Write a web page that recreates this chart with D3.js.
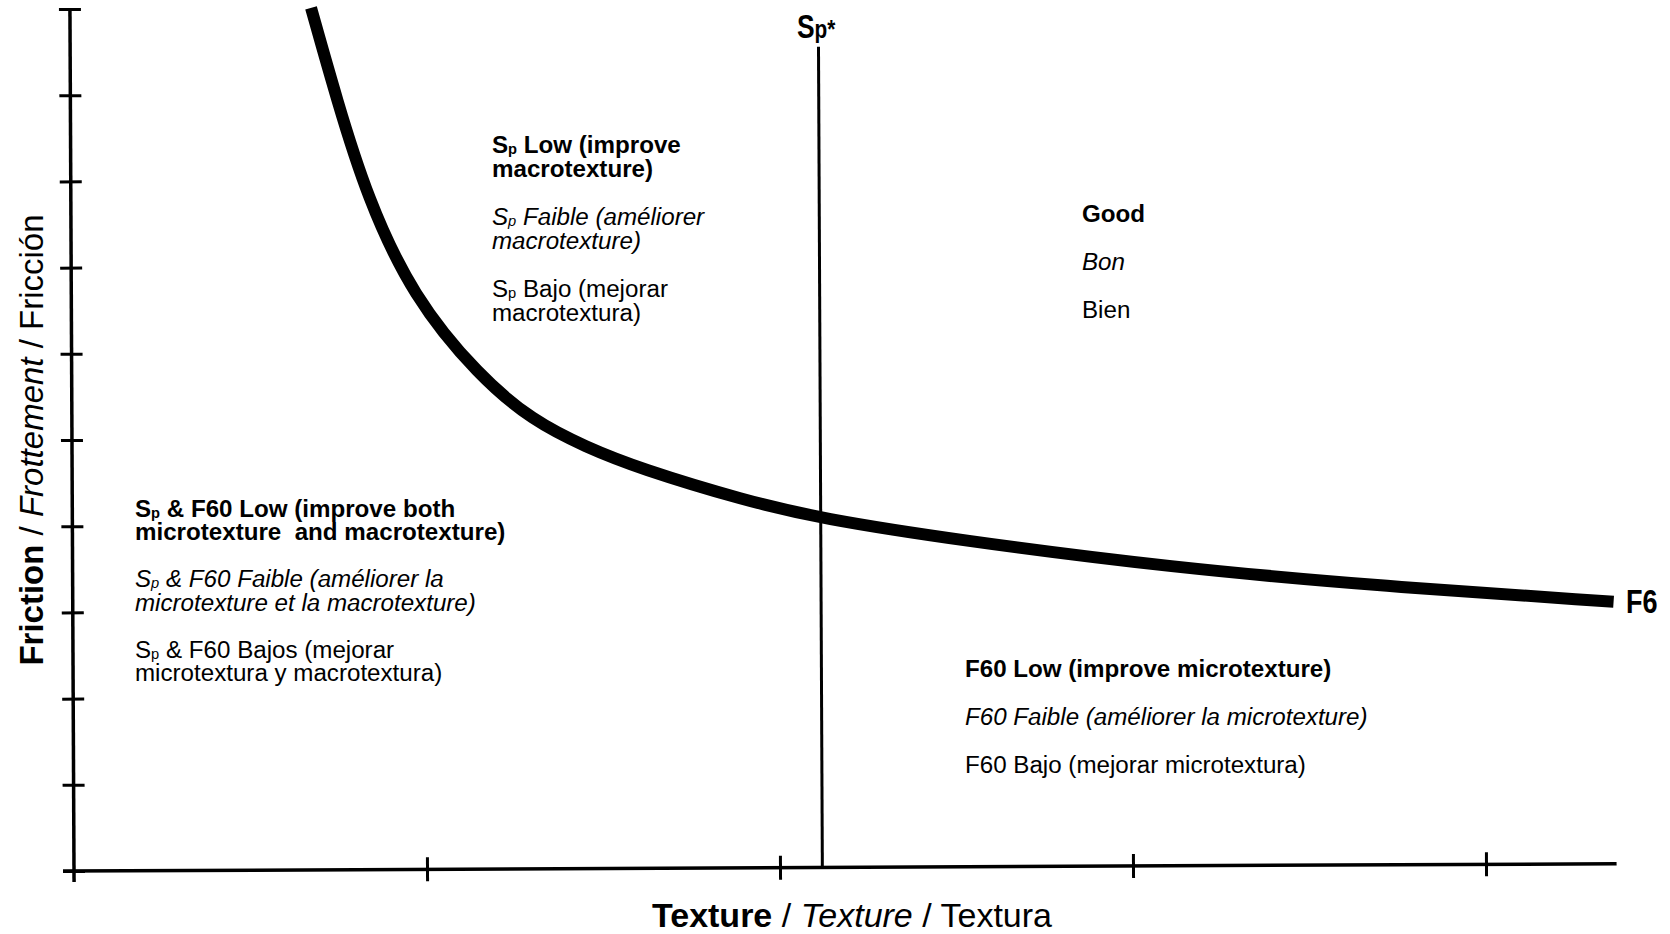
<!DOCTYPE html>
<html><head><meta charset="utf-8">
<script src="https://cdn.jsdelivr.net/npm/d3@7"></script>
<style>
html,body{margin:0;padding:0;background:#fff;overflow:hidden}
text{font-family:"Liberation Sans",Arial,Helvetica,sans-serif;fill:#000;white-space:pre}
</style>
</head><body>
<svg id="chart" width="1670" height="934"></svg>
<script>
// ---- data ----
const textureX  = [0.683, 0.755, 0.839, 0.968, 1.154, 1.305, 1.456, 1.606, 1.907, 2.118, 2.51, 3.113, 3.716, 4.365];
const frictionY = [10.0,  8.93,  7.80,  6.64,  5.72,  5.20,  4.89,  4.64,  4.26,  4.05,  3.79, 3.46,  3.23,  3.04];
const xTicks = [0, 1, 2, 3, 4];
const yTicks = [0, 1, 2, 3, 4, 5, 6, 7, 8, 9, 10];
const xDomain = [0, 4.37];
const yDomain = [0, 10];
const spStarTexture = 2.12;
const spStarTop = 9.52;
const curveLabel = "F6";
const spStarLabel = ["S", "p*"];
const xTitleParts = ["Texture", "Texture", "Textura"];
const yTitleParts = ["Friction", "Frottement", "Fricción"];
// region texts: one array per language (English, French, Spanish)
const regionNames = ["spLow", "good", "bothLow", "f60Low"];
const englishText = [
  ["Sp Low (improve", "macrotexture)"],
  ["Good"],
  ["Sp & F60 Low (improve both", "microtexture  and macrotexture)"],
  ["F60 Low (improve microtexture)"]
];
const frenchText = [
  ["Sp Faible (améliorer", "macrotexture)"],
  ["Bon"],
  ["Sp & F60 Faible (améliorer la", "microtexture et la macrotexture)"],
  ["F60 Faible (améliorer la microtexture)"]
];
const spanishText = [
  ["Sp Bajo (mejorar", "macrotextura)"],
  ["Bien"],
  ["Sp & F60 Bajos (mejorar", "microtextura y macrotextura)"],
  ["F60 Bajo (mejorar microtextura)"]
];

// ---- drawing ----
const svg = d3.select("#chart");
const x = d3.scaleLinear().domain(xDomain).range([74, 74 + 353 * xDomain[1]]);
const y = d3.scaleLinear().domain(yDomain).range([871, 9]);

// the scanned figure is tilted very slightly
const plot = svg.append("g").attr("transform", `rotate(-0.27 ${x(0)} ${y(0)})`);

// Y axis
const yAxis = plot.append("g").attr("transform", `translate(${x(0)},0)`)
  .call(d3.axisLeft(y).tickValues(yTicks).tickFormat("").tickSizeOuter(0));
yAxis.select(".domain").remove();
yAxis.selectAll(".tick line").attr("x1", -11).attr("x2", 11)
  .attr("stroke", "#000").attr("stroke-width", 3);
yAxis.append("line").attr("x1", 0).attr("x2", 0)
  .attr("y1", y(yDomain[1]) - 1).attr("y2", y(0) + 11)
  .attr("stroke", "#000").attr("stroke-width", 3.5);

// X axis
const xAxis = plot.append("g").attr("transform", `translate(0,${y(0)})`)
  .call(d3.axisBottom(x).tickValues(xTicks.slice(1)).tickFormat("").tickSizeOuter(0));
xAxis.select(".domain").remove();
xAxis.selectAll(".tick line").attr("y1", -12).attr("y2", 12)
  .attr("stroke", "#000").attr("stroke-width", 3);
xAxis.append("line").attr("x1", x(0) - 11).attr("x2", x(xDomain[1]))
  .attr("y1", 0).attr("y2", 0)
  .attr("stroke", "#000").attr("stroke-width", 3.5);

// Sp* vertical threshold
plot.append("line")
  .attr("x1", x(spStarTexture)).attr("x2", x(spStarTexture))
  .attr("y1", y(spStarTop)).attr("y2", y(0))
  .attr("stroke", "#000").attr("stroke-width", 3);

// F60 curve
const pts = textureX.map((t, i) => [t, frictionY[i]]);
plot.append("path").datum(pts)
  .attr("d", d3.line().x(d => x(d[0])).y(d => y(d[1])).curve(d3.curveBasis))
  .attr("fill", "none").attr("stroke", "#000").attr("stroke-width", 12)
  .attr("stroke-linecap", "butt");

// labels (narrow bold)
const spl = svg.append("text")
  .attr("transform", "translate(797,38) scale(0.8,1)")
  .attr("font-weight", "bold");
spl.append("tspan").attr("font-size", 33).text(spStarLabel[0]);
spl.append("tspan").attr("font-size", 26).text(spStarLabel[1]);

svg.append("text")
  .attr("transform", "translate(1626,613) scale(0.82,1)")
  .attr("font-weight", "bold").attr("font-size", 33).text(curveLabel);

// region text blocks
const langStyle = [
  {weight: "bold", style: "normal"},
  {weight: "normal", style: "italic"},
  {weight: "normal", style: "normal"}
];
const blockPlace = {
  spLow:   {x: 492,  y: 153, line: 24.5, gap: 47.5},
  good:    {x: 1082, y: 222, line: 24,   gap: 48},
  bothLow: {x: 135,  y: 517, line: 23.5, gap: 47},
  f60Low:  {x: 965,  y: 677, line: 24,   gap: 48}
};
function addLine(g, str, yy, st) {
  const t = g.append("text").attr("x", 0).attr("y", yy)
    .attr("font-size", 23).attr("font-weight", st.weight).attr("font-style", st.style);
  if (str.startsWith("Sp ")) {
    t.append("tspan").text("S");
    t.append("tspan").attr("font-size", 14).attr("dy", 1).text("p");
    t.append("tspan").attr("dy", -1).text(str.slice(2));
  } else {
    t.text(str);
  }
}
regionNames.forEach((name, ri) => {
  const p = blockPlace[name];
  const g = svg.append("g").attr("transform", `translate(${p.x},0) scale(1.05,1)`);
  let yy = p.y;
  [englishText[ri], frenchText[ri], spanishText[ri]].forEach((lines, li) => {
    lines.forEach((ln, k) => {
      addLine(g, ln, yy, langStyle[li]);
      if (k < lines.length - 1) yy += p.line;
    });
    yy += p.gap;
  });
});

// axis titles
function titleText(sel, parts) {
  parts.forEach((s, i) => {
    if (i > 0) sel.append("tspan").attr("font-weight", "normal").attr("font-style", "normal").text(" / ");
    sel.append("tspan").attr("font-weight", langStyle[i].weight).attr("font-style", langStyle[i].style).text(s);
  });
}
const xt = svg.append("text").attr("x", 852).attr("y", 927)
  .attr("text-anchor", "middle").attr("font-size", 34);
titleText(xt, xTitleParts);
const yt = svg.append("text").attr("transform", "translate(43,440) rotate(-90)")
  .attr("text-anchor", "middle").attr("font-size", 33);
titleText(yt, yTitleParts);
</script>
</body></html>
